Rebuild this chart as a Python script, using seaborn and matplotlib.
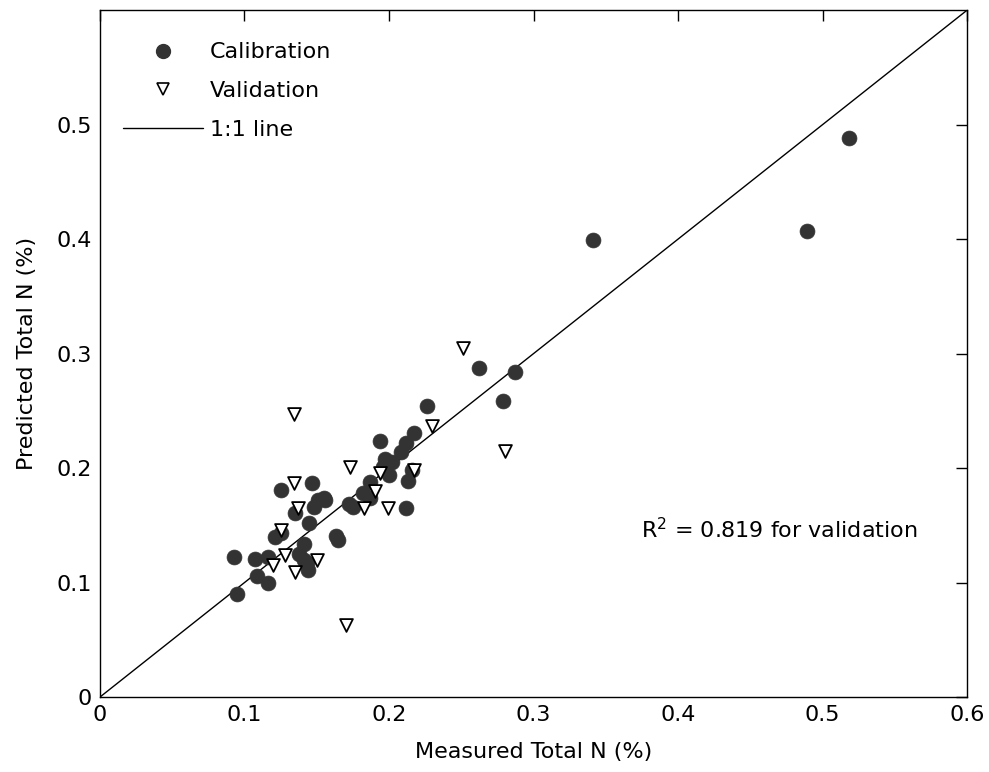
import matplotlib
matplotlib.use("Agg")
import matplotlib.pyplot as plt
import seaborn as sns
import pandas as pd
from matplotlib.lines import Line2D

cal_x = [0.518, 0.489, 0.341, 0.287, 0.262, 0.279, 0.226, 0.217, 0.212, 0.208,
         0.194, 0.197, 0.196, 0.200, 0.216, 0.213, 0.187, 0.187, 0.175, 0.172,
         0.212, 0.156, 0.163, 0.165, 0.125, 0.147, 0.151, 0.155, 0.148, 0.135,
         0.145, 0.121, 0.125, 0.093, 0.107, 0.116, 0.141, 0.138, 0.143, 0.144,
         0.141, 0.109, 0.116, 0.095, 0.202, 0.182]
cal_y = [0.488, 0.407, 0.399, 0.284, 0.287, 0.259, 0.254, 0.231, 0.222, 0.214,
         0.224, 0.208, 0.201, 0.194, 0.198, 0.189, 0.188, 0.174, 0.166, 0.169,
         0.165, 0.172, 0.141, 0.137, 0.181, 0.187, 0.172, 0.174, 0.166, 0.161,
         0.152, 0.140, 0.143, 0.122, 0.121, 0.122, 0.134, 0.125, 0.117, 0.111,
         0.120, 0.106, 0.100, 0.090, 0.205, 0.178]

val_x = [0.251, 0.230, 0.280, 0.134, 0.170, 0.173, 0.217, 0.194, 0.190, 0.183,
         0.199, 0.134, 0.137, 0.125, 0.128, 0.120, 0.135, 0.150]
val_y = [0.305, 0.237, 0.215, 0.247, 0.063, 0.201, 0.198, 0.196, 0.180, 0.165,
         0.165, 0.187, 0.165, 0.146, 0.124, 0.115, 0.109, 0.120]

xticks = [0, 0.1, 0.2, 0.3, 0.4, 0.5, 0.6]
xticklabels = ["0", "0.1", "0.2", "0.3", "0.4", "0.5", "0.6"]
yticks = [0, 0.1, 0.2, 0.3, 0.4, 0.5]
yticklabels = ["0", "0.1", "0.2", "0.3", "0.4", "0.5"]

FS = 16

sns.set_theme(style="white")
plt.rcParams['font.family'] = ['DejaVu Sans']
plt.rcParams['text.color'] = 'black'

fig = plt.figure(figsize=(9.89, 7.72), dpi=100)
ax = fig.add_axes([0.101, 0.097, 0.877, 0.890])

cal = pd.DataFrame({"x": cal_x, "y": cal_y})
val = pd.DataFrame({"x": val_x, "y": val_y})

ax.axline((0, 0), slope=1, color="black", lw=1.0, zorder=1)
sns.scatterplot(data=cal, x="x", y="y", ax=ax, marker="o", s=115,
                color="#333333", edgecolor="#333333", linewidth=0.5, zorder=2)
sns.scatterplot(data=val, x="x", y="y", ax=ax, marker="v", s=85,
                facecolor="white", edgecolor="black", linewidth=1.3, zorder=3)

ax.set_xlim(0, 0.6)
ax.set_ylim(0, 0.6)
ax.set_xticks(xticks)
ax.set_xticklabels(xticklabels)
ax.set_yticks(yticks)
ax.set_yticklabels(yticklabels)
ax.tick_params(direction="in", length=8, width=1, top=True, right=True,
               labelsize=FS, colors="black", pad=6)
for s in ax.spines.values():
    s.set_color("black")
    s.set_linewidth(1.0)

ax.set_xlabel("Measured Total N (%)", fontsize=FS, color="black", labelpad=12)
ax.set_ylabel("Predicted Total N (%)", fontsize=FS, color="black", labelpad=14)

ax.text(0.374, 0.146, "R$^2$ = 0.819 for validation", fontsize=FS,
        color="black", va="center", ha="left")

handles = [
    Line2D([], [], marker="o", ls="none", color="#333333", markersize=10),
    Line2D([], [], marker="v", ls="none", markerfacecolor="white",
           markeredgecolor="black", markeredgewidth=1.2, markersize=8),
    Line2D([], [], color="black", lw=1.0),
]
leg = ax.legend(handles, ["Calibration", "Validation", "1:1 line"], loc="upper left",
                frameon=False, fontsize=FS, handlelength=3.6, handletextpad=0.3,
                labelspacing=0.85, bbox_to_anchor=(0.0265, 0.953),
                borderaxespad=0.0, borderpad=0.0)
for t in leg.get_texts():
    t.set_color("black")

fig.savefig("out.png", dpi=100, facecolor="white")
